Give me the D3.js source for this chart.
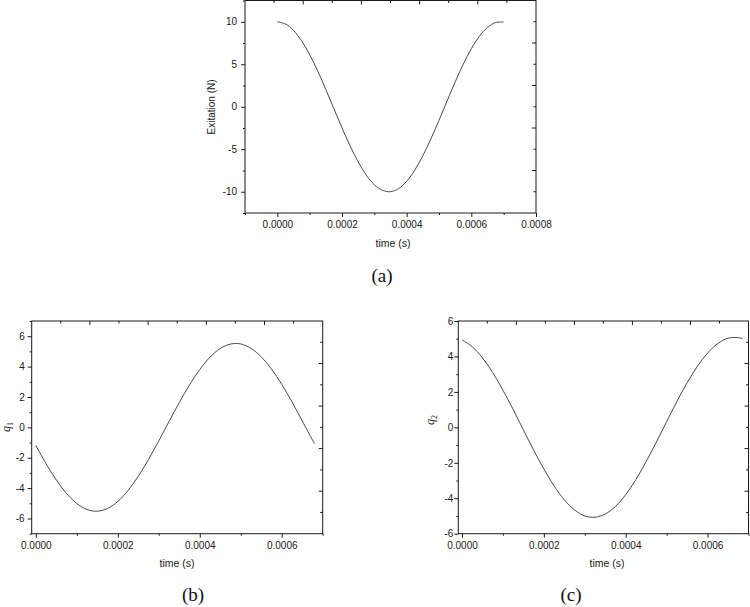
<!DOCTYPE html>
<html>
<head>
<meta charset="utf-8">
<script src="https://cdn.jsdelivr.net/npm/d3@7"></script>
<style>
  html, body { margin: 0; padding: 0; background: #fff; }
  svg { display: block; }
</style>
</head>
<body>
<svg id="chart" width="750" height="607"></svg>
<script>
// ---------- data ----------
const aTime = [0, 0.000025, 0.00005, 0.000075, 0.0001, 0.000125, 0.00015, 0.000175, 0.0002, 0.000225,
  0.00025, 0.000275, 0.0003, 0.000325, 0.00035, 0.000375, 0.0004, 0.000425, 0.00045, 0.000475,
  0.0005, 0.000525, 0.00055, 0.000575, 0.0006, 0.000625, 0.00065, 0.000675, 0.0007];
const excitation = [10, 9.74, 8.98, 7.76, 6.13, 4.19, 2.03, -0.23, -2.48, -4.60,
  -6.49, -8.04, -9.17, -9.83, -9.99, -9.63, -8.77, -7.46, -5.77, -3.77,
  -1.59, 0.68, 2.92, 5.00, 6.83, 8.30, 9.34, 9.91, 9.96];

const bTime = [0, 0.000025, 0.00005, 0.000075, 0.0001, 0.000125, 0.00015, 0.000175, 0.0002, 0.000225,
  0.00025, 0.000275, 0.0003, 0.000325, 0.00035, 0.000375, 0.0004, 0.000425, 0.00045, 0.000475,
  0.0005, 0.000525, 0.00055, 0.000575, 0.0006, 0.000625, 0.00065, 0.000675, 0.00068];
const q1 = [-1.19, -2.39, -3.46, -4.35, -5.01, -5.41, -5.52, -5.34, -4.88, -4.16,
  -3.22, -2.11, -0.89, 0.38, 1.63, 2.79, 3.80, 4.62, 5.19, 5.48,
  5.49, 5.20, 4.64, 3.84, 2.83, 1.68, 0.43, -0.83, -1.08];

const cTime = [0, 0.000025, 0.00005, 0.000075, 0.0001, 0.000125, 0.00015, 0.000175, 0.0002, 0.000225,
  0.00025, 0.000275, 0.0003, 0.000325, 0.00035, 0.000375, 0.0004, 0.000425, 0.00045, 0.000475,
  0.0005, 0.000525, 0.00055, 0.000575, 0.0006, 0.000625, 0.00065, 0.000675, 0.000686];
const q2 = [4.94, 4.55, 3.92, 3.09, 2.10, 1.01, -0.14, -1.28, -2.35, -3.30,
  -4.09, -4.66, -5.00, -5.07, -4.89, -4.46, -3.80, -2.94, -1.93, -0.83,
  0.32, 1.46, 2.51, 3.44, 4.19, 4.73, 5.03, 5.06, 5.00];

const aXTicks = [0, 0.0002, 0.0004, 0.0006, 0.0008];
const aXLabels = ["0.0000", "0.0002", "0.0004", "0.0006", "0.0008"];
const aXMinor = [-0.0001, 0.0001, 0.0003, 0.0005, 0.0007];
const aYTicks = [10, 5, 0, -5, -10];
const aYLabels = ["10", "5", "0", "-5", "-10"];
const aYMinor = [12.5, 7.5, 2.5, -2.5, -7.5, -12.5];

const bcXTicks = [0, 0.0002, 0.0004, 0.0006];
const bcXLabels = ["0.0000", "0.0002", "0.0004", "0.0006"];
const bcXMinor = [0.0001, 0.0003, 0.0005, 0.0007];
const bYTicks = [6, 4, 2, 0, -2, -4, -6];
const bYLabels = ["6", "4", "2", "0", "-2", "-4", "-6"];
const bYMinor = [7, 5, 3, 1, -1, -3, -5, -7];
const cYTicks = [6, 4, 2, 0, -2, -4, -6];
const cYLabels = ["6", "4", "2", "0", "-2", "-4", "-6"];
const cYMinor = [5, 3, 1, -1, -3, -5];

// ---------- drawing ----------
const svg = d3.select("#chart");
const SANS = "'Liberation Sans', Arial, Helvetica, sans-serif";
const SERIF = "'Liberation Serif', 'Times New Roman', Times, serif";
const INK = "#1a1a1a";

function panel(o) {
  const g = svg.append("g");
  const x = d3.scaleLinear().domain(o.xDomain).range([o.left, o.right]);
  const y = d3.scaleLinear().domain(o.yDomain).range([o.bottom, o.top]);

  // frame
  g.append("rect")
    .attr("x", o.left).attr("y", o.top)
    .attr("width", o.right - o.left).attr("height", o.bottom - o.top)
    .attr("fill", "none").attr("stroke", INK).attr("stroke-width", 1);

  const styleAxis = sel => {
    sel.select(".domain").remove();
    sel.selectAll("line").attr("stroke", INK).attr("stroke-width", 1);
    sel.selectAll("text").attr("fill", INK).style("font-family", SANS).style("font-size", "10px");
  };

  // bottom axis (outward ticks)
  g.append("g").attr("transform", `translate(0,${o.bottom})`)
    .call(d3.axisBottom(x).tickValues(o.xTicks).tickFormat((d, i) => o.xLabels[i]).tickSize(4).tickPadding(4))
    .call(styleAxis);
  g.append("g").attr("transform", `translate(0,${o.bottom})`)
    .call(d3.axisBottom(x).tickValues(o.xMinor.filter(v => v >= o.xDomain[0] && v <= o.xDomain[1])).tickFormat("").tickSize(2))
    .call(styleAxis);

  // left axis (outward ticks)
  g.append("g").attr("transform", `translate(${o.left},0)`)
    .call(d3.axisLeft(y).tickValues(o.yTicks).tickFormat((d, i) => o.yLabels[i]).tickSize(4).tickPadding(o.yPad))
    .call(styleAxis);
  g.append("g").attr("transform", `translate(${o.left},0)`)
    .call(d3.axisLeft(y).tickValues(o.yMinor.filter(v => v >= o.yDomain[0] && v <= o.yDomain[1])).tickFormat("").tickSize(2))
    .call(styleAxis);

  // top & right axes: ten equal divisions, inward ticks
  const div = d3.range(1, 10);
  const tx = d3.scaleLinear().domain([0, 10]).range([o.left, o.right]);
  const ty = d3.scaleLinear().domain([0, 10]).range([o.top, o.bottom]);
  g.append("g").selectAll("line").data(div).join("line")
    .attr("x1", d => tx(d)).attr("x2", d => tx(d))
    .attr("y1", o.top).attr("y2", d => o.top + (d % 2 === 0 ? 4 : 2.5))
    .attr("stroke", INK);
  g.append("g").selectAll("line").data(div).join("line")
    .attr("y1", d => ty(d)).attr("y2", d => ty(d))
    .attr("x1", o.right).attr("x2", d => o.right - (d % 2 === 0 ? 4 : 2.5))
    .attr("stroke", INK);

  // curve
  const pts = o.xs.map((t, i) => [t, o.ys[i]]);
  g.append("path").datum(pts)
    .attr("fill", "none").attr("stroke", "#4a4a4a").attr("stroke-width", 1)
    .attr("d", d3.line().x(d => x(d[0])).y(d => y(d[1])).curve(d3.curveCatmullRom.alpha(0.5)));

  // x title
  g.append("text").attr("x", o.xTitleX).attr("y", o.xTitleY)
    .attr("text-anchor", "middle").attr("fill", INK)
    .style("font-family", SANS).style("font-size", "10.5px").text("time (s)");

  // y title
  const yt = g.append("text")
    .attr("transform", `translate(${o.yTitleX},${o.yTitleY}) rotate(-90)`)
    .attr("text-anchor", "middle").attr("fill", INK);
  if (o.ySub) {
    yt.style("font-family", SERIF).style("font-size", "12px").style("font-style", "italic");
    yt.append("tspan").text(o.yTitle);
    yt.append("tspan").attr("dy", "3").style("font-size", "8px").style("font-style", "normal").text(o.ySub);
  } else {
    yt.style("font-family", SANS).style("font-size", "10px").text(o.yTitle);
  }

  // panel caption
  g.append("text").attr("x", o.capX).attr("y", o.capY)
    .attr("text-anchor", "middle").attr("fill", "#111")
    .style("font-family", SERIF).style("font-size", "19px").text(o.caption);
}

panel({
  left: 245, right: 536, top: 0.5, bottom: 213,
  xDomain: [-0.0001, 0.0008], yDomain: [-12.5, 12.5],
  xTicks: aXTicks, xLabels: aXLabels, xMinor: aXMinor,
  yTicks: aYTicks, yLabels: aYLabels, yMinor: aYMinor, yPad: 4,
  xs: aTime, ys: excitation,
  xTitleX: 393, xTitleY: 247, yTitle: "Exitation (N)", yTitleX: 215, yTitleY: 107,
  caption: "(a)", capX: 382, capY: 282
});

panel({
  left: 31.7, right: 322.7, top: 321, bottom: 533.7,
  xDomain: [-0.00001, 0.0007], yDomain: [-7, 7],
  xTicks: bcXTicks, xLabels: bcXLabels, xMinor: bcXMinor,
  yTicks: bYTicks, yLabels: bYLabels, yMinor: bYMinor, yPad: 3,
  xs: bTime, ys: q1,
  xTitleX: 177, xTitleY: 567, yTitle: "q", ySub: "1", yTitleX: 10, yTitleY: 427,
  caption: "(b)", capX: 193, capY: 601
});

panel({
  left: 458.3, right: 748.5, top: 321, bottom: 533.7,
  xDomain: [-0.000009, 0.0007], yDomain: [-6, 6],
  xTicks: bcXTicks, xLabels: bcXLabels, xMinor: bcXMinor,
  yTicks: cYTicks, yLabels: cYLabels, yMinor: cYMinor, yPad: 1,
  xs: cTime, ys: q2,
  xTitleX: 607, xTitleY: 567, yTitle: "q", ySub: "2", yTitleX: 434, yTitleY: 420,
  caption: "(c)", capX: 571, capY: 601
});
</script>
</body>
</html>
